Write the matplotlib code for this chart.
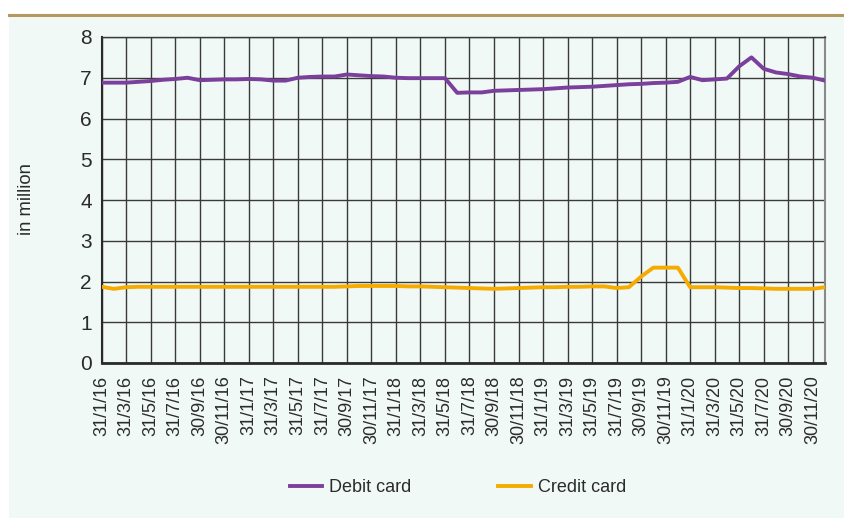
import matplotlib
matplotlib.use("Agg")
from matplotlib import pyplot as plt
from matplotlib.patches import Rectangle
from matplotlib.lines import Line2D
import numpy as np

plt.rcParams['font.family'] = ['Liberation Sans', 'DejaVu Sans']

# monthly values, Jan 2016 - Dec 2020 (in million)
debit = [6.88, 6.88, 6.88, 6.90, 6.92, 6.95, 6.97, 7.00, 6.94, 6.95,
         6.96, 6.96, 6.97, 6.96, 6.93, 6.93, 7.00, 7.02, 7.03, 7.03,
         7.08, 7.06, 7.04, 7.03, 7.00, 6.99, 6.99, 6.99, 6.99, 6.63,
         6.64, 6.64, 6.68, 6.69, 6.70, 6.71, 6.72, 6.74, 6.76, 6.77,
         6.78, 6.80, 6.82, 6.84, 6.85, 6.87, 6.88, 6.90, 7.02, 6.94,
         6.96, 6.98, 7.28, 7.50, 7.22, 7.13, 7.09, 7.03, 7.00, 6.93]
credit = [1.87, 1.82, 1.86, 1.87, 1.87, 1.87, 1.87, 1.87, 1.87, 1.87,
          1.87, 1.87, 1.87, 1.87, 1.87, 1.87, 1.87, 1.87, 1.87, 1.87,
          1.88, 1.89, 1.89, 1.89, 1.89, 1.88, 1.88, 1.87, 1.86, 1.85,
          1.84, 1.83, 1.82, 1.83, 1.84, 1.85, 1.86, 1.86, 1.87, 1.87,
          1.88, 1.88, 1.84, 1.86, 2.12, 2.34, 2.34, 2.34, 1.86, 1.86,
          1.86, 1.85, 1.84, 1.84, 1.83, 1.82, 1.82, 1.82, 1.82, 1.86]
tick_labels = ['31/1/16', '31/3/16', '31/5/16', '31/7/16', '30/9/16', '30/11/16',
               '31/1/17', '31/3/17', '31/5/17', '31/7/17', '30/9/17', '30/11/17',
               '31/1/18', '31/3/18', '31/5/18', '31/7/18', '30/9/18', '30/11/18',
               '31/1/19', '31/3/19', '31/5/19', '31/7/19', '30/9/19', '30/11/19',
               '31/1/20', '31/3/20', '31/5/20', '31/7/20', '30/9/20', '30/11/20']

bg = '#f0f9f6'
purple = '#7b3f9c'
orange = '#f6ab00'
text_col = '#2b2b2b'

fig = plt.figure(figsize=(8.45, 5.18), dpi=100)
fig.patch.set_facecolor('white')
fig.patches.append(Rectangle((9/845, 0), 1, 1 - 15/518, transform=fig.transFigure,
                             facecolor=bg, edgecolor='none', zorder=-10))
fig.lines.append(Line2D([9/845, 1], [1 - 15/518, 1 - 15/518], transform=fig.transFigure,
                        color='#b5975f', lw=2.2, zorder=-5))

ax = fig.add_axes([101.7/845, 1 - 363/518, (825 - 101.7)/845, (363 - 37)/518])
ax.set_facecolor(bg)

x = np.arange(len(debit))
ax.plot(x, debit, color=purple, lw=2.8, label='Debit card', zorder=3)
ax.plot(x, credit, color=orange, lw=2.8, label='Credit card', zorder=3)

ax.set_xlim(0, len(debit) - 1)
ax.set_ylim(0, 8)
ax.set_yticks(range(0, 9))
ax.set_xticks(x[::2])
ax.set_xticklabels(tick_labels, rotation=90, va='top', ha='center')
ax.tick_params(axis='x', length=0, pad=9, labelsize=13, colors=text_col)
ax.tick_params(axis='y', length=0, pad=7, labelsize=15, colors=text_col)
ax.grid(True, color='#3a3a3a', lw=1.0, zorder=1)
ax.set_axisbelow(True)

ax.spines['top'].set_color('#3a3a3a')
ax.spines['top'].set_linewidth(1.0)
ax.spines['right'].set_color('#8a8a8a')
ax.spines['right'].set_linewidth(1.5)
ax.spines['left'].set_color('#2a2a2a')
ax.spines['left'].set_linewidth(1.5)
ax.spines['bottom'].set_color('#2a2a2a')
ax.spines['bottom'].set_linewidth(2.0)

fig.text(27/845, 1 - 199/518, 'in million', rotation=90, ha='center', va='center',
         fontsize=13.3, color=text_col)

fig.legend(loc='center', bbox_to_anchor=(458/845, 1 - 488/518), ncol=2, frameon=False,
           fontsize=13, handlelength=1.8, handletextpad=0.4, columnspacing=4.8,
           labelcolor=text_col)

fig.savefig('out.png', dpi=100, facecolor=fig.get_facecolor())
